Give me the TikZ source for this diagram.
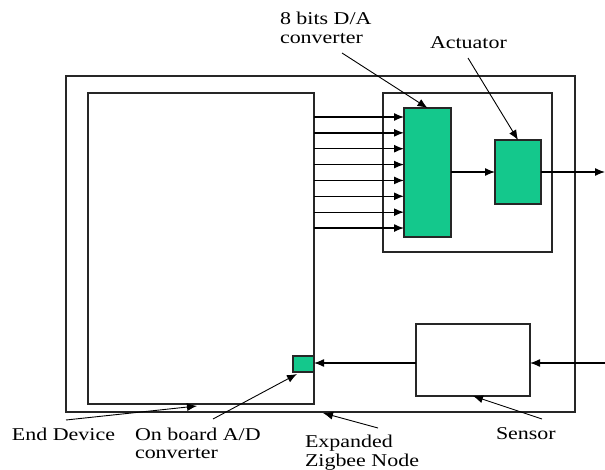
\documentclass[tikz,border=0pt]{standalone}
\usepackage{fontspec}
\setmainfont{Liberation Serif}[FakeStretch=1.22]
\usetikzlibrary{arrows.meta,calc}
\definecolor{boxgreen}{RGB}{20,200,140}
\tikzset{
  blk/.style={draw=black!85,line width=1.6pt,inner sep=0pt,outer sep=0pt,anchor=north west},
  grn/.style={blk,fill=boxgreen},
  arr/.style={line width=1.3pt,-{Latex[length=10pt,width=8pt]}},
  lead/.style={line width=0.9pt,-{Latex[length=10pt,width=8pt]}},
  lbl/.style={inner sep=0pt,outer sep=0pt,anchor=base west,align=left,
    font=\fontsize{18}{18.5}\selectfont}
}
\begin{document}
\begin{tikzpicture}[x=1pt,y=-1pt]
\useasboundingbox[fill=white] (0,0) rectangle (605,470);
% boxes
\node[blk,minimum width=509pt,minimum height=336pt] (zig) at (66,76) {};
\node[blk,minimum width=226pt,minimum height=311pt] (ed) at (88,93) {};
\node[blk,minimum width=169pt,minimum height=159pt] (cont) at (383,93) {};
\node[grn,minimum width=47pt,minimum height=129pt] (da) at (404,108) {};
\node[grn,minimum width=46pt,minimum height=64pt] (act) at (495,140) {};
\node[blk,minimum width=114pt,minimum height=72pt] (sen) at (416,324) {};
\node[grn,minimum width=21pt,minimum height=16pt] (ad) at (293,356) {};
% free ends
\coordinate (outR) at (605,172);
\coordinate (inR) at (605,363);
% 8 data lines
\foreach \i in {0,...,7}{
  \draw[arr] (ed.east |- 0,{117+15.86*\i}) -- (da.west |- 0,{117+15.86*\i});
}
\draw[arr] (da.east |- act.west) -- (act.west);
\draw[arr] (act.east) -- (outR);
\draw[arr] (inR) -- (sen.east |- inR);
\draw[arr] (sen.west |- inR) -- (ad.east |- inR);
% labels (base anchor = last line's baseline)
\node[lbl] (lda) at (280,43.5) {8 bits D/A\\converter};
\node[lbl] (lact) at (430,49) {Actuator};
\node[lbl] (led) at (12,440) {End Device};
\node[lbl] (lad) at (135,458.5) {On board A/D\\converter};
\node[lbl] (lzig) at (305,466) {Expanded\\Zigbee Node};
\node[lbl] (lsen) at (496,439) {Sensor};
% leader tails
\coordinate (tda) at (342,53);
\coordinate (tact) at (468,58);
\coordinate (ted) at (66,420);
\coordinate (tad) at (213,419);
\coordinate (tzig) at (378,428);
\coordinate (tsen) at (542,419);
\draw[lead] (tda) -- (da.north);
\draw[lead] (tact) -- (act.north);
\draw[lead] (ted) -- ($(ed.south west)+(109,2)$);
\draw[lead] (tad) -- ($(ad.south west)+(4,2)$);
\draw[lead] (tzig) -- ($(zig.south west)+(257,1)$);
\draw[lead] (tsen) -- (sen.south);
\end{tikzpicture}
\end{document}
